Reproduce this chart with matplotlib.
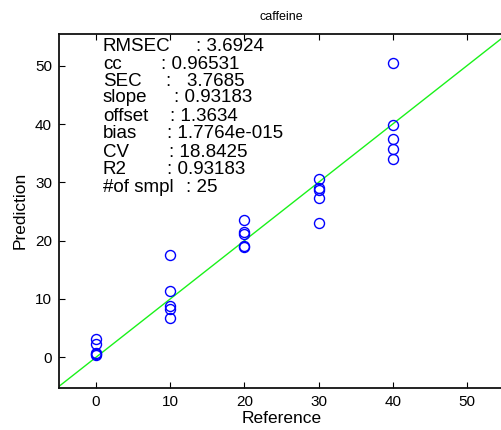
import matplotlib
matplotlib.use("Agg")
import matplotlib.pyplot as plt
import numpy as np

plt.rcParams['font.family'] = ['Liberation Sans', 'DejaVu Sans']

# data
reference = [0, 0, 0, 0, 0,
             10, 10, 10, 10, 10,
             20, 20, 20, 20, 20,
             30, 30, 30, 30, 30,
             40, 40, 40, 40, 40]
prediction = [3.1, 2.3, 0.8, 0.5, 0.3,
              17.5, 11.4, 8.8, 8.3, 6.7,
              23.5, 21.4, 21.1, 19.1, 18.9,
              30.6, 29.1, 28.6, 27.3, 23.1,
              50.5, 39.8, 37.4, 35.7, 34.0]
stat_labels = ["RMSEC", "cc", "SEC", "slope", "offset", "bias", "CV", "R2", "#of smpl"]
stat_values = [": 3.6924", ": 0.96531", ":   3.7685", ": 0.93183", ": 1.3634",
               ": 1.7764e-015", ": 18.8425", ": 0.93183", ": 25"]
title = "caffeine"
xticks = [0, 10, 20, 30, 40, 50]
yticks = [0, 10, 20, 30, 40, 50]

W, H = 501, 430
fig = plt.figure(figsize=(W / 100, H / 100), dpi=100)
ax = fig.add_axes([59 / W, (H - 387.7) / H, (504 - 59) / W, (387.7 - 34) / H])
ax.set_xlim(-5, 55)
ax.set_ylim(-5.23, 55.44)

ax.plot([-5, 55], [-5, 55], color=(0.1, 0.95, 0.1), lw=1.0, zorder=2)
ax.plot(reference, prediction, linestyle='none', marker='o', markersize=7.2,
        markerfacecolor='none', markeredgecolor=(0, 0, 1), markeredgewidth=1.0, zorder=3)

ax.set_xticks(xticks)
ax.set_yticks(yticks)
ax.tick_params(direction='in', length=4, width=0.8, top=True, right=False,
               labelsize=11, pad=5)
for s in ax.spines.values():
    s.set_linewidth(1.3)
    s.set_color('#111111')

ax.set_xlabel("Reference", fontsize=12.5, labelpad=2)
ax.set_ylabel("Prediction", fontsize=12.5, labelpad=5)
fig.text(281 / W, 1 - 17 / H, title, ha='center', va='center', fontsize=9)

baselines = [50.7, 69, 85.7, 102.3, 120.7, 138.3, 156.7, 174, 191.7]
colon_x = [196, 161, 166, 174, 170, 167, 169, 167, 186]
for lab, val, yb, cx in zip(stat_labels, stat_values, baselines, colon_x):
    fig.text(103 / W, 1 - yb / H, lab, ha='left', va='baseline', fontsize=13.5)
    fig.text(cx / W, 1 - yb / H, val, ha='left', va='baseline', fontsize=13.5)

fig.savefig("out.png", dpi=100)
